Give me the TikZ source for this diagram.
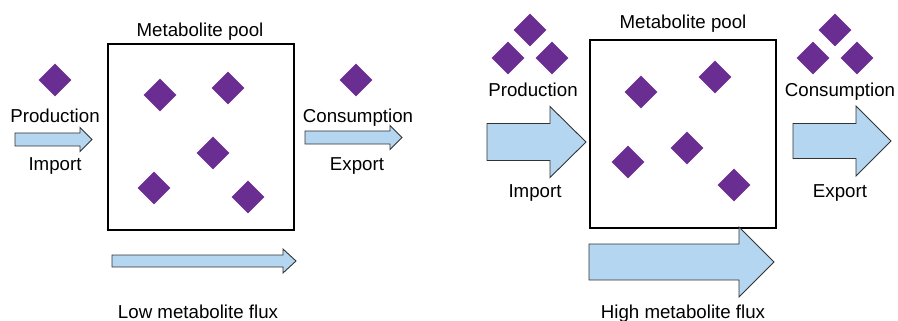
\documentclass[tikz,border=0pt]{standalone}
\usepackage{fontspec}
\setmainfont{Liberation Sans}
\usetikzlibrary{shapes.geometric}

\definecolor{metpurple}{RGB}{106,45,145}
\definecolor{fluxblue}{RGB}{180,214,240}

\tikzset{
  metabolite/.style={diamond, fill=metpurple, inner sep=0pt,
    minimum width=33pt, minimum height=33pt},
  txt/.style={anchor=base, inner sep=0pt, font=\fontsize{18.7}{22}\selectfont},
  pool/.style={draw, line width=2.8pt, inner sep=0pt},
  flux/.style={draw=black!80, fill=fluxblue, line width=0.9pt, line join=miter}
}

\begin{document}
\begin{tikzpicture}[x=1pt, y=-1pt]
\useasboundingbox (0,0) rectangle (898,321);

% block arrow: left x, head start x, tip x, centre y, half shaft, half head
\newcommand{\fluxarrow}[6]{
  \draw [flux] (#1,{#4-#5}) -- (#2,{#4-#5}) -- (#2,{#4-#6}) -- (#3,#4)
    -- (#2,{#4+#6}) -- (#2,{#4+#5}) -- (#1,{#4+#5}) -- cycle;
}

%% Low flux (left)

% Metabolite pool (box)
\node [pool, minimum width=186pt, minimum height=186pt] (poolL) at (201,137) {};
\node [txt] (poolLtxt) at (200,37) {Metabolite pool};

\foreach \x/\y [count=\i] in {160/95, 228/88, 213/153, 154/188, 248/197}
  \node [metabolite] (mL\i) at (\x,\y) {};

% Production and import
\node [metabolite] (prodL) at (55,80) {};
\node [txt] (prodLtxt) at (55,123) {Production};
\fluxarrow{15}{80}{92}{139.5}{6.5}{12}
\node [txt] (impLtxt) at (55,170) {Import};

% Consumption and export
\node [metabolite] (consL) at (356,80) {};
\node [txt] (consLtxt) at (358,123) {Consumption};
\fluxarrow{305}{390}{402}{137.5}{6.5}{12}
\node [txt] (expLtxt) at (357,170) {Export};

% Flux
\fluxarrow{112}{283}{296}{261}{6}{12}
\node [txt] (fluxLtxt) at (198,318) {Low metabolite flux};

%% High flux (right)

% Metabolite pool (box)
\node [pool, minimum width=186pt, minimum height=188pt] (poolR) at (683,134) {};
\node [txt] (poolRtxt) at (683,29) {Metabolite pool};

\foreach \x/\y [count=\i] in {641/92, 715/77, 687/148, 628/162, 734/185}
  \node [metabolite] (mR\i) at (\x,\y) {};

% Production and import
\foreach \x/\y [count=\i] in {530/30, 508/58, 552/58}
  \node [metabolite] (prodR\i) at (\x,\y) {};
\node [txt] (prodRtxt) at (533,96) {Production};
\fluxarrow{487}{550}{586}{142}{18.5}{35.5}
\node [txt] (impRtxt) at (535,197) {Import};

% Consumption and export
\foreach \x/\y [count=\i] in {835/30, 813/58, 857/58}
  \node [metabolite] (consR\i) at (\x,\y) {};
\node [txt] (consRtxt) at (840,96) {Consumption};
\fluxarrow{793}{856}{891}{141}{17.5}{35}
\node [txt] (expRtxt) at (840,197) {Export};

% Flux
\fluxarrow{589}{739}{774}{262}{18}{35}
\node [txt] (fluxRtxt) at (683,318) {High metabolite flux};

\end{tikzpicture}
\end{document}
